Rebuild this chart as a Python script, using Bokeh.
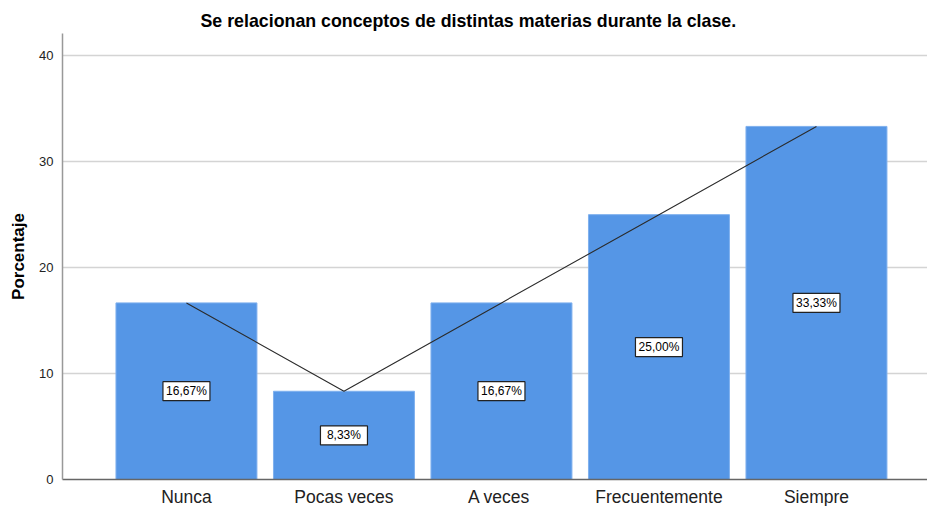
from bokeh.plotting import figure
from bokeh.models import ColumnDataSource, Range1d, FixedTicker, Title
from bokeh.core.properties import value
from bokeh.embed import file_html
from bokeh.resources import INLINE

categories = ["Nunca", "Pocas veces", "A  veces", "Frecuentemente", "Siempre"]
percentages = [16.67, 8.33, 16.67, 25.00, 33.33]
y_ticks = [0, 10, 20, 30, 40]

xs = list(range(len(categories)))
labels = [("%.2f" % v).replace(".", ",") + "%" for v in percentages]
mids = [v / 2 for v in percentages]

src = ColumnDataSource(dict(x=xs, top=percentages, mid=mids, lab=labels))

FONT = "Liberation Sans"

p = figure(frame_width=865, frame_height=446, output_backend="svg", toolbar_location=None,
           x_range=Range1d(-0.787, 4.705), y_range=Range1d(0, 42.1),
           min_border_left=62, min_border_top=33, min_border_bottom=27, min_border_right=0)
p.title = None
t = Title(text="Se relacionan conceptos de distintas materias durante la clase.",
          align="left", text_font=FONT, text_font_size="17.8px", text_font_style="bold",
          text_color="#000000", offset=138, standoff=6)
p.add_layout(t, "above")

p.vbar(x="x", top="top", width=0.895, source=src, fill_color="#5596e6",
       line_color="#7fb0ee", line_width=1)
p.line(x="x", y="top", source=src, line_color="#2b2b2b", line_width=1.1)

p.rect(x="x", y="mid", width=47, height=19, width_units="screen", height_units="screen",
       source=src, fill_color="white", line_color="#222222", line_width=1.2)
p.text(x="x", y="mid", text="lab", source=src, text_align="center",
       text_baseline="middle", text_font=value(FONT), text_font_size="12px",
       text_color="#000000")

p.xaxis.ticker = FixedTicker(ticks=xs)
p.xaxis.major_label_overrides = {i: c for i, c in enumerate(categories)}
p.xaxis.major_label_text_font = FONT
p.xaxis.major_label_text_font_size = "17.5px"
p.xaxis.major_label_text_color = "#222222"
p.xaxis.major_tick_line_color = None
p.xaxis.major_tick_out = 0
p.xaxis.major_tick_in = 0
p.xaxis.minor_tick_line_color = None
p.xaxis.axis_line_color = "#666666"
p.xaxis.axis_line_width = 1.5
p.xaxis.major_label_standoff = 7

p.yaxis.ticker = FixedTicker(ticks=y_ticks)
p.yaxis.axis_label = "Porcentaje"
p.yaxis.axis_label_text_font = FONT
p.yaxis.axis_label_text_font_size = "17px"
p.yaxis.axis_label_text_font_style = "bold"
p.yaxis.axis_label_text_color = "#000000"
p.yaxis.major_label_text_font = FONT
p.yaxis.major_label_text_font_size = "13px"
p.yaxis.major_label_text_color = "#222222"
p.yaxis.major_tick_line_color = None
p.yaxis.major_tick_out = 0
p.yaxis.major_tick_in = 0
p.yaxis.minor_tick_line_color = None
p.yaxis.axis_line_color = "#999999"
p.yaxis.axis_line_width = 1.5
p.yaxis.major_label_standoff = 9
p.yaxis.axis_label_standoff = 8

p.xgrid.grid_line_color = None
p.ygrid.ticker = FixedTicker(ticks=[10, 20, 30, 40])
p.ygrid.grid_line_color = "#d4d4d4"
p.ygrid.grid_line_width = 1.5
p.outline_line_color = None
p.background_fill_color = "white"
p.border_fill_color = "white"

open("out.html", "w").write(file_html(p, INLINE))
